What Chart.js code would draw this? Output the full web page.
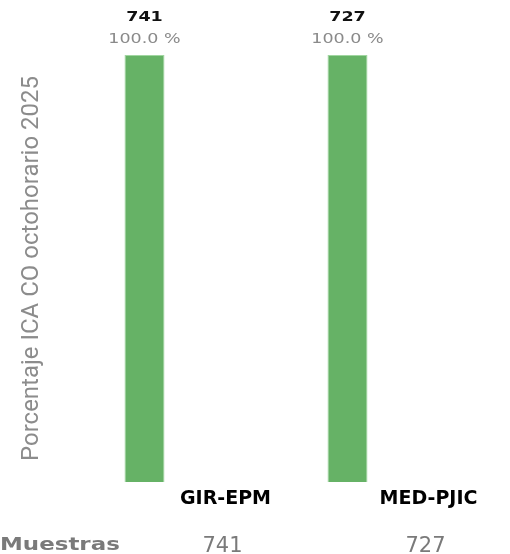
<!DOCTYPE html>
<html>
<head>
<meta charset="utf-8">
<script src="https://cdn.jsdelivr.net/npm/chart.js@4"></script>
<style>
  html, body { margin: 0; padding: 0; background: #fff; }
  #wrap { width: 510px; height: 554px; }
</style>
</head>
<body>
<div id="wrap"><canvas id="icaChart"></canvas></div>
<script>
// data
var stations = ["GIR-EPM", "MED-PJIC"];
var percentages = [100.0, 100.0];
var samples = [741, 727];
var yTitle = "Porcentaje ICA CO octohorario 2025";
var rowTitle = "Muestras";

// labels over each bar: count + percentage, plus the row title at the bottom
var barLabels = {
    id: "barLabels",
    afterDatasetsDraw: function (chart) {
        var ctx = chart.ctx;
        var meta = chart.getDatasetMeta(0);
        ctx.save();
        ctx.textAlign = "center";
        ctx.textBaseline = "middle";
        meta.data.forEach(function (bar, i) {
            ctx.save();
            ctx.translate(bar.x, 0);
            ctx.scale(1.25, 1);
            ctx.font = "bold 14px 'DejaVu Sans'";
            ctx.fillStyle = "#111";
            ctx.fillText(String(samples[i]), 0, 17);
            ctx.font = "14px 'DejaVu Sans'";
            ctx.fillStyle = "#8a8a8a";
            ctx.fillText(percentages[i].toFixed(1) + " %", 0, 39);
            ctx.restore();
        });
        ctx.textAlign = "left";
        ctx.translate(0, 546);
        ctx.scale(1.35, 1);
        ctx.font = "bold 17px 'DejaVu Sans'";
        ctx.fillStyle = "#7a7a7a";
        ctx.fillText(rowTitle, 0, 0);
        ctx.restore();
    }
};

var ctx = document.getElementById("icaChart").getContext("2d");
new Chart(ctx, {
    type: "bar",
    data: {
        labels: stations,
        datasets: [
            {
                label: yTitle,
                data: percentages,
                backgroundColor: "#66b266",
                borderColor: "rgba(150, 210, 150, 0.9)",
                borderWidth: 1,
                categoryPercentage: 1,
                barPercentage: 0.197
            }
        ]
    },
    options: {
        responsive: true,
        maintainAspectRatio: false,
        animation: false,
        layout: { padding: { top: 55, right: 61, bottom: 0, left: 0 } },
        plugins: { legend: { display: false }, tooltip: { enabled: false } },
        scales: {
            y: {
                min: 0,
                max: 100,
                ticks: { display: false },
                grid: { display: false, drawTicks: false },
                border: { display: false },
                title: {
                    display: true,
                    text: yTitle,
                    color: "#8c8c8c",
                    font: { family: "Roboto", size: 24 },
                    padding: { top: 18, bottom: 0 }
                },
                afterFit: function (s) { s.width = 43; }
            },
            x: {
                grid: { display: false, drawTicks: false },
                border: { display: false },
                ticks: {
                    color: "#000",
                    font: { family: "'DejaVu Sans'", size: 19, weight: "bold" },
                    padding: 6,
                    labelOffset: 81,
                    maxRotation: 0
                },
                afterFit: function (s) { s.height = 28; }
            },
            x2: {
                type: "category",
                labels: stations,
                position: "bottom",
                grid: { display: false, drawTicks: false },
                border: { display: false },
                ticks: {
                    color: "#7a7a7a",
                    font: { family: "'DejaVu Sans'", size: 21 },
                    padding: 24,
                    labelOffset: 78,
                    maxRotation: 0,
                    callback: function (v, i) { return String(samples[i]); }
                },
                afterFit: function (s) { s.height = 44; }
            }
        }
    },
    plugins: [barLabels]
});
</script>
</body>
</html>
